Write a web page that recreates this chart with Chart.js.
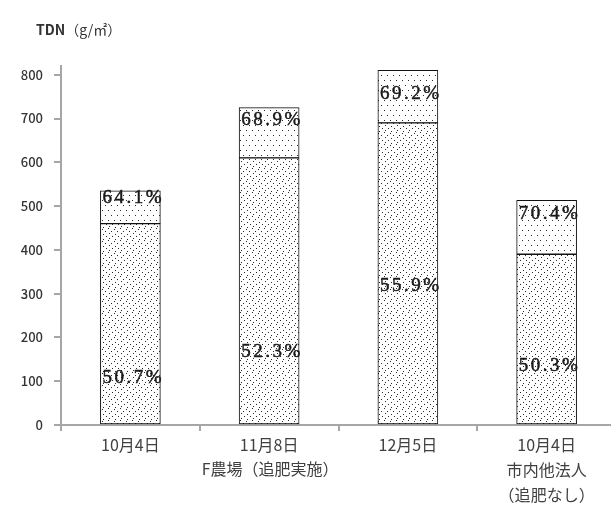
<!DOCTYPE html>
<html>
<head>
<meta charset="utf-8">
<script src="https://cdn.jsdelivr.net/npm/chart.js@4.4.1/dist/chart.umd.min.js"></script>
<style>
  html, body { margin: 0; padding: 0; background: #fff; overflow: hidden; }
  #wrap { width: 616px; height: 511px; position: relative; }
</style>
</head>
<body>
<div id="wrap"><canvas id="tdnChart"></canvas></div>
<script>
// TDN（g/㎡）の推移 — 下段と上段の積み上げ
const categories = [
  ['10月4日'],
  ['11月8日'],
  ['12月5日'],
  ['10月4日', '市内他法人', '（追肥なし）']
];
const groupCaption = 'F農場（追肥実施）';
const lowerPart = [460, 610, 690, 390];
const upperPart = [75, 115, 120, 123];
const lowerPct = ['50.7%', '52.3%', '55.9%', '50.3%'];
const upperPct = ['64.1%', '68.9%', '69.2%', '70.4%'];
const yTicks = [0, 100, 200, 300, 400, 500, 600, 700, 800];

// where the % labels sit, in axis units
const lowerLabelAt = [107, 167, 318, 135];
const upperLabelAt = [519, 697, 757, 482];

function dotPattern(w, h, pts) {
  const c = document.createElement('canvas');
  c.width = w; c.height = h;
  const g = c.getContext('2d');
  g.fillStyle = '#fff';
  g.fillRect(0, 0, w, h);
  g.fillStyle = '#2a2a2a';
  pts.forEach(p => g.fillRect(p[0], p[1], 1, 1));
  return g.createPattern(c, 'repeat');
}

// scattered fill for the lower block, even grid for the upper block
const denseDots = dotPattern(12, 12, [
  [0, 0], [6, 1], [3, 3], [9, 3], [1, 5], [7, 6],
  [4, 8], [10, 8], [1, 10], [7, 11]
]);
const sparseDots = dotPattern(6, 10, [[0, 0], [3, 5]]);

const gray = '#a6a6a6';

const labelPlugin = {
  id: 'pctLabels',
  afterDatasetsDraw(chart) {
    const ctx = chart.ctx;
    const y = chart.scales.y;
    const x = chart.scales.x;
    ctx.save();
    ctx.font = '19px "Liberation Serif"';
    ctx.letterSpacing = '2.5px';
    ctx.fillStyle = '#1a1a1a';
    ctx.strokeStyle = '#1a1a1a';
    ctx.lineWidth = 0.5;
    ctx.textBaseline = 'middle';
    ctx.textAlign = 'left';
    chart.getDatasetMeta(0).data.forEach((bar, i) => {
      const left = bar.x - bar.width / 2 + 2;
      [[lowerPct[i], lowerLabelAt[i]], [upperPct[i], upperLabelAt[i]]].forEach(([txt, v]) => {
        const py = y.getPixelForValue(v);
        ctx.fillText(txt, left, py);
        ctx.strokeText(txt, left, py);
      });
    });
    ctx.letterSpacing = '0px';

    // caption under the first three dates
    ctx.font = '16px "Noto Sans CJK JP"';
    ctx.fillStyle = '#404040';
    const edge = (x.getPixelForValue(0) + x.getPixelForValue(1)) / 2;
    ctx.fillText(groupCaption, edge + 2, 469);

    // axis title
    ctx.font = 'bold 14px "Noto Sans CJK JP"';
    ctx.fillStyle = '#333';
    ctx.fillText('TDN', 36, 30);
    const w = ctx.measureText('TDN').width;
    ctx.font = '14px "Noto Sans CJK JP"';
    ctx.fillText('（g/㎡）', 36 + w, 30);
    ctx.restore();
  }
};

new Chart(document.getElementById('tdnChart'), {
  type: 'bar',
  data: {
    labels: categories,
    datasets: [
      {
        data: lowerPart,
        backgroundColor: denseDots,
        borderColor: '#111',
        borderWidth: 1,
        borderSkipped: false
      },
      {
        data: upperPart,
        backgroundColor: sparseDots,
        borderColor: '#111',
        borderWidth: 1,
        borderSkipped: false
      }
    ]
  },
  options: {
    responsive: true,
    maintainAspectRatio: false,
    animation: false,
    layout: { padding: { top: 66, left: 0, right: 0, bottom: 0 } },
    plugins: { legend: { display: false }, tooltip: { enabled: false } },
    datasets: { bar: { barThickness: 60 } },
    scales: {
      x: {
        stacked: true,
        afterFit(scale) { scale.height = 86; },
        grid: { drawOnChartArea: false, color: gray, tickLength: 6, lineWidth: 2 },
        border: { color: gray, width: 2 },
        ticks: {
          color: '#404040',
          padding: 2,
          font: { family: '"Noto Sans CJK JP"', size: 16, lineHeight: 1.55 },
          maxRotation: 0,
          autoSkip: false
        }
      },
      y: {
        stacked: true,
        min: 0,
        max: 820,
        afterFit(scale) { scale.width = 61; },
        afterBuildTicks(scale) { scale.ticks = yTicks.map(v => ({ value: v })); },
        grid: { drawOnChartArea: false, color: gray, tickLength: 7, lineWidth: 2 },
        border: { color: gray, width: 2 },
        ticks: {
          color: '#333',
          padding: 11,
          font: { family: '"Noto Sans CJK JP"', size: 13, weight: '500' }
        }
      }
    }
  },
  plugins: [labelPlugin]
});
</script>
</body>
</html>
